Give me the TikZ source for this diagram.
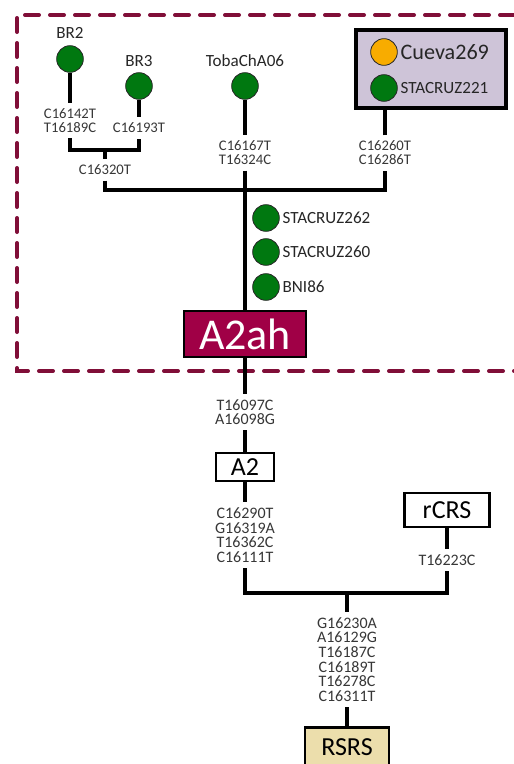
\documentclass[tikz,border=0pt]{standalone}
\usepackage{fontspec}
\setmainfont{Carlito}
\usetikzlibrary{positioning}

\definecolor{hapred}{RGB}{160,0,70}
\definecolor{framered}{RGB}{128,14,56}
\definecolor{sampgreen}{RGB}{0,120,16}
\definecolor{samporange}{RGB}{248,172,0}
\definecolor{boxlilac}{RGB}{206,196,216}
\definecolor{rootsand}{RGB}{236,222,172}
\definecolor{mutgray}{RGB}{55,55,55}

\begin{document}
\begin{tikzpicture}[x=0.75pt, y=-0.75pt,
    branch/.style={line width=3pt},
    sample/.style={circle, draw=black!85, line width=0.6pt, fill=sampgreen,
        minimum size=20pt, inner sep=0pt},
    sname/.style={font=\fontsize{12.8}{14}\selectfont, text=black!85, inner sep=1pt},
    mut/.style={font=\fontsize{11}{10.5}\selectfont, text=mutgray, align=center,
        inner xsep=1pt, inner ysep=4pt},
    mutbig/.style={mut, font=\fontsize{12}{11}\selectfont},
    hapbox/.style={draw, line width=2.2pt, inner sep=0pt,
        font=\fontsize{19.5}{20}\selectfont}]

    \useasboundingbox (0,0) rectangle (514,764);

    % Dashed frame round the A2ah group
    \draw[framered, line width=3pt, line cap=round, dash pattern=on 10.5pt off 8.25pt]
        (514,15) -- (17,15) -- (17,371) -- (514,371);

    % Samples on top
    \node[sample] (br2) at (70,59) {};
    \node[sname] (br2lab) at (70,33) {BR2};
    \node[sample] (br3) at (139,86) {};
    \node[sname] (br3lab) at (139,61) {BR3};
    \node[sample] (toba) at (245,86) {};
    \node[sname] (tobalab) at (245,61) {TobaChA06};

    % Cueva box
    \node[draw, line width=3pt, fill=boxlilac, minimum width=112.5pt,
        minimum height=58.5pt] (cuevabox) at (431,69) {};
    \node[sample, fill=samporange] (cueva) at (384,52) {};
    \node[font=\fontsize{16.6}{18}\selectfont, text=black!85, inner sep=1pt,
        right=1pt of cueva] (cuevalab) {Cueva269};
    \node[sample] (stc221) at (384,88) {};
    \node[sname, right=1pt of stc221] (stc221lab) {STACRUZ221};

    % Mutations
    \node[mut] (m_br2) at (70,120.5) {C16142T\\T16189C};
    \node[mut] (m_br3) at (139,128) {C16193T};
    \node[mut] (m_br) at (105,170) {C16320T};
    \node[mut] (m_toba) at (245,153) {C16167T\\T16324C};
    \node[mut] (m_cueva) at (385,153) {C16260T\\C16286T};

    % Junctions
    \coordinate (jbr2) at (70,150);
    \coordinate (jbr3) at (139,150);
    \coordinate (jbr) at (105,150);
    \coordinate (jmainL) at (105,190);
    \coordinate (jmainR) at (385,190);
    \coordinate (jtoba) at (245,190);

    \draw[branch] (br2) -- (m_br2);
    \draw[branch] (br3) -- (m_br3);
    \draw[branch] (m_br2) -- (jbr2) -- (jbr3) -- (m_br3);
    \draw[branch] (jbr) -- (m_br);
    \draw[branch] (m_br) -- (jmainL) -- (jmainR) -- (m_cueva);
    \draw[branch] (m_cueva) -- (m_cueva |- cuevabox.south);
    \draw[branch] (toba) -- (m_toba);
    \draw[branch] (m_toba) -- (jtoba);

    % Samples beside the A2ah stem
    \node[sample] (stc262) at (266,218) {};
    \node[sname, right=1pt of stc262] (stc262lab) {STACRUZ262};
    \node[sample] (stc260) at (266,252) {};
    \node[sname, right=1pt of stc260] (stc260lab) {STACRUZ260};
    \node[sample] (bni86) at (266,287) {};
    \node[sname, right=1pt of bni86] (bni86lab) {BNI86};

    % Haplogroups
    \node[draw, line width=1.6pt, fill=hapred, text=white, inner sep=0pt,
        minimum width=92pt, minimum height=34.5pt,
        font=\fontsize{33}{34}\selectfont] (a2ah) at (245,334) {A2ah};
    \node[hapbox, minimum width=43.5pt, minimum height=21pt] (a2) at (245,467) {A2};
    \node[hapbox, minimum width=64pt, minimum height=25.5pt] (rcrs) at (447,510) {rCRS};
    \node[hapbox, fill=rootsand, minimum width=63pt, minimum height=29pt] (rsrs) at (347,747) {RSRS};

    \draw[branch] (jtoba) -- (a2ah);

    % Lower tree
    \node[mutbig] (m_a2ah) at (245,412) {T16097C\\A16098G};
    \node[mutbig] (m_a2) at (245,535) {C16290T\\G16319A\\T16362C\\C16111T};
    \node[mutbig] (m_rcrs) at (447,560) {T16223C};
    \node[mutbig] (m_root) at (347,659.5) {G16230A\\A16129G\\T16187C\\C16189T\\T16278C\\C16311T};

    \coordinate (ja2) at (245,593);
    \coordinate (jrcrs) at (447,593);
    \coordinate (jroot) at (347,593);

    \draw[branch] (a2ah) -- (m_a2ah);
    \draw[branch] (m_a2ah) -- (a2);
    \draw[branch] (a2) -- (m_a2);
    \draw[branch] (m_a2) -- (ja2) -- (jrcrs) -- (m_rcrs);
    \draw[branch] (rcrs) -- (m_rcrs);
    \draw[branch] (jroot) -- (m_root);
    \draw[branch] (m_root) -- (rsrs);

\end{tikzpicture}
\end{document}
